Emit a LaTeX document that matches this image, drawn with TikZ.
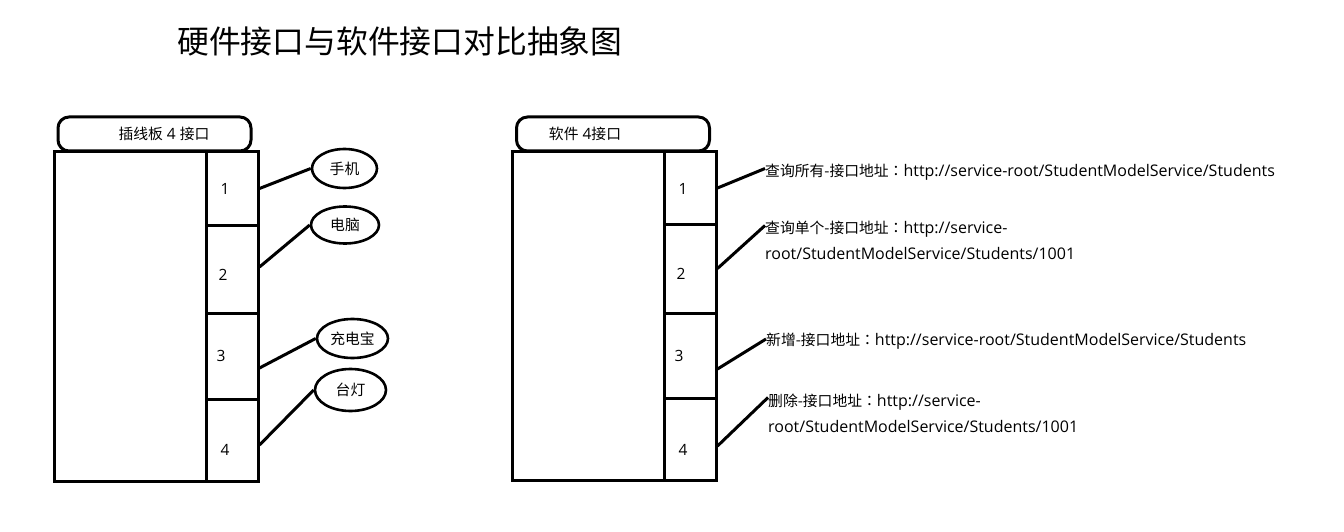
\documentclass[tikz,border=0pt]{standalone}
\usepackage{fontspec}
\setmainfont{Open Sans}
\newfontfamily\cjk{Noto Sans CJK SC}
\newfontfamily\cjkpunct{Noto Sans CJK TC}
\newcommand\hanzi[1]{{\cjk\fontsize{14.8}{26}\selectfont #1}}
\newcommand\fwcolon{{\cjkpunct\fontsize{14.8}{26}\selectfont ：}}
\usetikzlibrary{shapes.geometric}
\begin{document}
\begin{tikzpicture}[x=1pt,y=-1pt,
  body/.style={draw,line width=3pt,inner sep=0pt,minimum width=152pt,minimum height=329pt},
  port/.style={draw,line width=3pt,inner sep=0pt,minimum width=52pt,minimum height=#1},
  num/.style={inner sep=0pt,font=\fontsize{15.5}{18}\selectfont},
  hdr/.style={draw,line width=3pt,rounded corners=11pt,inner sep=0pt,minimum width=193pt,minimum height=34pt},
  hdrtext/.style={inner sep=0pt,font=\fontsize{15.5}{18}\selectfont},
  dev/.style={ellipse,draw,line width=2.6pt,inner sep=0pt,font=\cjk\fontsize{14.8}{16}\selectfont},
  api/.style={inner sep=0pt,align=left,font=\fontsize{16}{26}\selectfont},
  link/.style={line width=3pt}]
\fill[white] (0,0) rectangle (1344,532);
\useasboundingbox (0,0) rectangle (1344,532);

% title
\node[inner sep=0pt,anchor=west,font=\cjk\fontsize{31.8}{36}\selectfont] (title) at (177,41) {硬件接口与软件接口对比抽象图};

% ---- hardware: power strip ----
\node[hdr] (lh) at (154.5,134) {};
\node[hdrtext] (lht) at (164,133.5) {\hanzi{插线板} 4 \hanzi{接口}};
\node[body] (lb) at (130,316.5) {};
\node[port=73pt] (lp1) at (232,188.5) {};
\node[port=88pt] (lp2) at (232,269) {};
\node[port=86pt] (lp3) at (232,356) {};
\node[port=82pt] (lp4) at (232,440) {};
\node[num] (ln1) at (225,189) {1};
\node[num] (ln2) at (223,275) {2};
\node[num] (ln3) at (221,356) {3};
\node[num] (ln4) at (225,450) {4};

\node[dev,minimum width=65pt,minimum height=39pt] (e1) at (344.5,168.5) {手机};
\node[dev,minimum width=68pt,minimum height=37pt] (e2) at (345,225) {电脑};
\node[dev,minimum width=71pt,minimum height=39pt] (e3) at (352.5,338.5) {充电宝};
\node[dev,minimum width=71pt,minimum height=42pt] (e4) at (350.5,390) {台灯};

\draw[link] (lp1.east) -- (e1.west);
\draw[link] ([yshift=2pt]lp2.east) -- (e2.west);
\draw[link] ([yshift=-12pt]lp3.east) -- (e3.west);
\draw[link] ([yshift=-5pt]lp4.east) -- (e4.west);

% ---- software: service with 4 endpoints ----
\node[hdr] (rh) at (613,134) {};
\node[hdrtext] (rht) at (585,134) {\hanzi{软件} 4\hanzi{接口}};
\node[body] (rb) at (588,316) {};
\node[port=72pt] (rp1) at (690,188) {};
\node[port=89pt] (rp2) at (690,268.5) {};
\node[port=85pt] (rp3) at (690,355.5) {};
\node[port=82pt] (rp4) at (690,439) {};
\node[num] (rn1) at (683,189) {1};
\node[num] (rn2) at (681,274) {2};
\node[num] (rn3) at (679,356) {3};
\node[num] (rn4) at (683,450) {4};

\node[api,anchor=west] (t1) at (765,172.5) {\hanzi{查询所有-接口地址}\fwcolon http://service-root/StudentModelService/Students};
\node[api,anchor=north west] (t2) at (765,220.5) {\hanzi{查询单个-接口地址}\fwcolon http://service-\\root/StudentModelService/Students/1001};
\node[api,anchor=west] (t3) at (766,341) {\hanzi{新增-接口地址}\fwcolon http://service-root/StudentModelService/Students};
\node[api,anchor=north west] (t4) at (768,393.5) {\hanzi{删除-接口地址}\fwcolon http://service-\\root/StudentModelService/Students/1001};

\draw[link] (rp1.east) -- ([yshift=4pt]t1.west);
\draw[link] (rp2.east) -- ([yshift=-5pt]t2.north west);
\draw[link] ([yshift=-13.5pt]rp3.east) -- ([yshift=2pt]t3.west);
\draw[link] ([yshift=-7pt]rp4.east) -- ([yshift=-4pt]t4.north west);
\end{tikzpicture}
\end{document}
